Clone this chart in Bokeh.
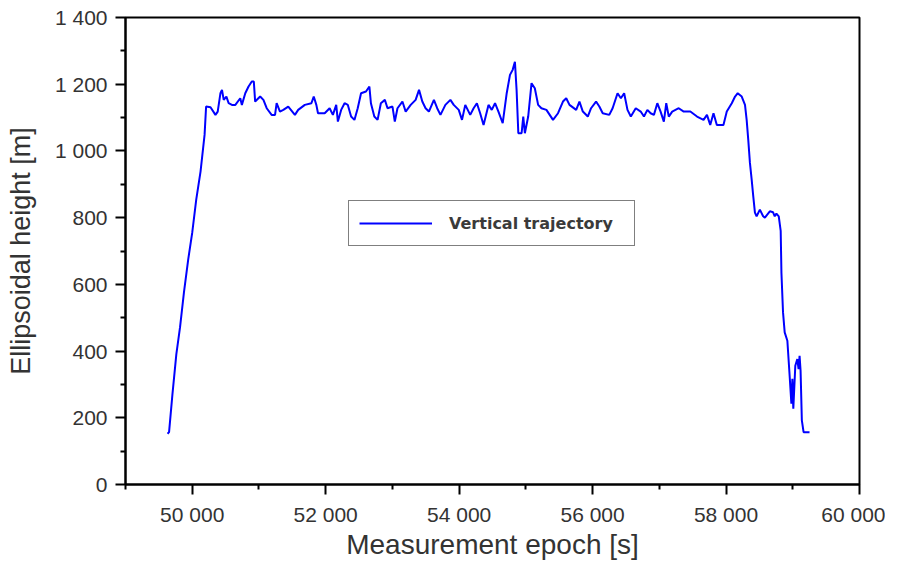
from bokeh.plotting import figure
from bokeh.models import Range1d, FixedTicker, Legend, LegendItem
from bokeh.embed import file_html
from bokeh.resources import INLINE

# ---- data ----
epoch = [
    49630, 49653, 49702, 49762, 49817, 49876, 49940, 50000, 50060, 50125,
    50185, 50208, 50274, 50348, 50382, 50423, 50446, 50472, 50512, 50546,
    50595, 50646, 50720, 50744, 50795, 50844, 50893, 50923, 50943, 51018,
    51067, 51116, 51190, 51241, 51265, 51315, 51365, 51439, 51539, 51588,
    51687, 51786, 51821, 51860, 51885, 51985, 52059, 52108, 52158, 52183,
    52232, 52283, 52332, 52381, 52431, 52480, 52530, 52604, 52655, 52678,
    52729, 52778, 52827, 52887, 52927, 53001, 53036, 53076, 53150, 53199,
    53274, 53348, 53399, 53448, 53497, 53547, 53622, 53671, 53720, 53794,
    53869, 53919, 53994, 54043, 54092, 54166, 54217, 54266, 54315, 54366,
    54440, 54489, 54538, 54589, 54653, 54713, 54762, 54802, 54836, 54861,
    54887, 54936, 54961, 54985, 55035, 55085, 55134, 55184, 55233, 55308,
    55407, 55482, 55556, 55605, 55654, 55754, 55803, 55854, 55928, 55977,
    56052, 56101, 56152, 56250, 56300, 56374, 56424, 56473, 56523, 56573,
    56647, 56721, 56770, 56821, 56870, 56919, 56970, 57019, 57068, 57104,
    57142, 57193, 57291, 57366, 57465, 57565, 57663, 57714, 57763, 57812,
    57862, 57961, 58011, 58086, 58135, 58175, 58235, 58284, 58309, 58333,
    58358, 58384, 58408, 58433, 58458, 58507, 58556, 58582, 58656, 58705,
    58730, 58755, 58790, 58819, 58830, 58854, 58879, 58919, 58953, 58979,
    58994, 59008, 59038, 59068, 59087, 59102, 59117, 59136, 59162, 59251,
]
height = [
    152, 157, 267, 391, 471, 576, 675, 755, 854, 939,
    1048, 1133, 1131, 1108, 1118, 1173, 1183, 1153, 1163, 1143,
    1138, 1138, 1158, 1138, 1173, 1193, 1208, 1208, 1148, 1163,
    1153, 1128, 1108, 1108, 1143, 1118, 1123, 1133, 1108, 1123,
    1138, 1143, 1163, 1138, 1113, 1113, 1128, 1108, 1138, 1088,
    1123, 1143, 1138, 1103, 1093, 1128, 1173, 1178, 1193, 1143,
    1103, 1093, 1143, 1153, 1128, 1133, 1088, 1128, 1148, 1118,
    1138, 1153, 1183, 1148, 1128, 1118, 1153, 1128, 1108, 1138,
    1153, 1138, 1123, 1093, 1138, 1108, 1128, 1143, 1113, 1078,
    1138, 1123, 1143, 1118, 1083, 1173, 1228, 1243, 1267, 1183,
    1053, 1053, 1103, 1053, 1103, 1203, 1188, 1138, 1128, 1123,
    1093, 1113, 1148, 1158, 1138, 1123, 1148, 1118, 1103, 1128,
    1148, 1133, 1113, 1108, 1128, 1173, 1158, 1173, 1123, 1103,
    1128, 1118, 1103, 1123, 1113, 1108, 1143, 1118, 1088, 1143,
    1103, 1118, 1128, 1118, 1118, 1103, 1093, 1108, 1078, 1113,
    1078, 1078, 1118, 1143, 1163, 1173, 1163, 1138, 1093, 1033,
    964, 914, 864, 815, 804, 824, 804, 800, 819, 816,
    804, 812, 804, 760, 635, 516, 456, 431, 326, 242,
    317, 227, 356, 376, 346, 386, 341, 192, 157, 157,
]

x_ticks = [50000, 52000, 54000, 56000, 58000, 60000]
x_tick_labels = ["50 000", "52 000", "54 000", "56 000", "58 000", "60 000"]
x_minor = [49000, 51000, 53000, 55000, 57000, 59000]
y_ticks = [0, 200, 400, 600, 800, 1000, 1200, 1400]
y_tick_labels = ["0", "200", "400", "600", "800", "1 000", "1 200", "1 400"]
y_minor = [100, 300, 500, 700, 900, 1100, 1300]

x_label = "Measurement epoch [s]"
y_label = "Ellipsoidal height [m]"
series_name = "Vertical trajectory"

p = figure(width=885, height=562, output_backend="svg", toolbar_location=None,
           x_range=Range1d(49000, 60000), y_range=Range1d(0, 1400),
           min_border_left=125, min_border_right=26, min_border_top=17,
           min_border_bottom=78)
p.background_fill_color = "white"
p.border_fill_color = "white"
p.grid.visible = False
p.outline_line_color = "black"
p.outline_line_width = 2

r = p.line(epoch, height, line_color="#0000ff", line_width=2)

TICK_FONT = "Liberation Sans"
for ax in (p.xaxis[0], p.yaxis[0]):
    ax.axis_line_color = "black"
    ax.axis_line_width = 2
    ax.major_tick_line_color = "black"
    ax.major_tick_line_width = 2
    ax.minor_tick_line_color = "black"
    ax.minor_tick_line_width = 2
    ax.major_tick_in = 0
    ax.major_tick_out = 10
    ax.minor_tick_in = 0
    ax.minor_tick_out = 5
    ax.major_label_text_font = TICK_FONT
    ax.major_label_text_font_size = "21px"
    ax.major_label_text_color = "#333333"
    ax.axis_label_text_font = TICK_FONT
    ax.axis_label_text_font_style = "normal"
    ax.axis_label_text_color = "#333333"

p.xaxis[0].ticker = FixedTicker(ticks=x_ticks, minor_ticks=x_minor)
p.xaxis[0].major_label_overrides = dict(zip(x_ticks, x_tick_labels))
p.xaxis[0].axis_label = x_label
p.xaxis[0].axis_label_text_font_size = "28px"
p.xaxis[0].major_label_standoff = 8
p.xaxis[0].axis_label_standoff = 0

p.yaxis[0].ticker = FixedTicker(ticks=y_ticks, minor_ticks=y_minor)
p.yaxis[0].major_label_overrides = dict(zip(y_ticks, y_tick_labels))
p.yaxis[0].axis_label = y_label
p.yaxis[0].axis_label_text_font_size = "27px"
p.yaxis[0].major_label_standoff = 8
p.yaxis[0].axis_label_standoff = 16

legend = Legend(items=[LegendItem(label=series_name, renderers=[r])],
                location=(223, 238))
legend.border_line_color = "black"
legend.border_line_width = 1.5
legend.background_fill_color = "white"
legend.background_fill_alpha = 1
legend.padding = 10
legend.margin = 0
legend.spacing = 0
legend.glyph_width = 73
legend.glyph_height = 24
legend.label_height = 24
legend.label_width = 175
legend.label_standoff = 17
legend.label_text_font = "DejaVu Sans"
legend.label_text_font_style = "bold"
legend.label_text_font_size = "16px"
legend.label_text_color = "#3a3a3a"
p.add_layout(legend, "center")

open("out.html", "w").write(file_html(p, INLINE))
